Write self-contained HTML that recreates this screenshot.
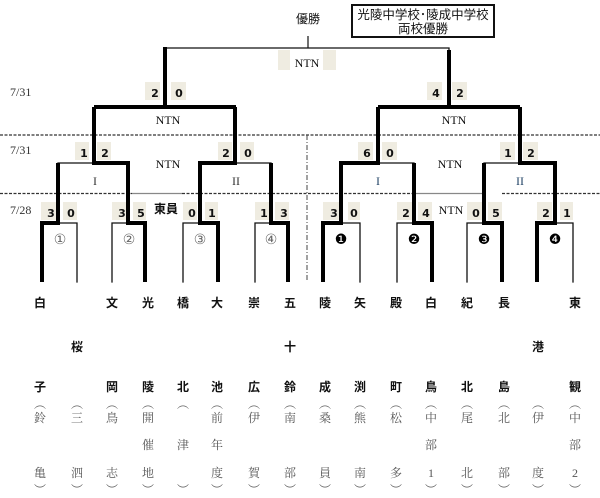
<!DOCTYPE html>
<html><head><meta charset="utf-8"><style>
html,body{margin:0;padding:0;background:#fff;}
svg{display:block;}
.s{fill:#efece1;}
.d{font-family:"DejaVu Sans","Liberation Sans",sans-serif;font-weight:bold;font-size:11px;fill:#111;text-anchor:middle;}
.n{font-family:"Liberation Serif",serif;font-size:12px;fill:#111;text-anchor:middle;}
.dt{font-family:"Liberation Serif",serif;font-size:12px;fill:#333;}
.b{font-family:"Liberation Sans","Noto Sans CJK JP",sans-serif;font-weight:bold;font-size:12px;fill:#111;text-anchor:middle;}
.g{font-family:"Liberation Serif","Noto Serif CJK SC",serif;font-size:12px;fill:#555;text-anchor:middle;}
.c{font-family:"DejaVu Sans",sans-serif;font-size:14px;text-anchor:middle;}
</style></head><body>
<svg width="600" height="498" viewBox="0 0 600 498" xmlns="http://www.w3.org/2000/svg">
<!-- dashed lines -->
<g stroke="#333" stroke-width="1.2" stroke-dasharray="3,1.5" fill="none">
<line x1="0" y1="135" x2="600" y2="135"/>
<line x1="0" y1="193.5" x2="132" y2="193.5"/>
<line x1="182" y1="193.5" x2="415" y2="193.5"/>
<line x1="502" y1="193.5" x2="600" y2="193.5"/>
</g>
<g stroke="#888" stroke-width="1.2"><line x1="132" y1="193.5" x2="182" y2="193.5"/><line x1="415" y1="193.5" x2="482" y2="193.5"/></g>
<line x1="307" y1="135" x2="307" y2="282" stroke="#444" stroke-width="1" stroke-dasharray="5,2,1,2"/>
<!-- dates -->
<text class="dt" x="10" y="96">7/31</text>
<text class="dt" x="10" y="154">7/31</text>
<text class="dt" x="10" y="214">7/28</text>
<!-- top -->
<text class="b" x="308" y="23" style="font-weight:normal">優勝</text>
<rect x="352" y="5" width="142" height="32" fill="#fff" stroke="#111" stroke-width="2"/>
<text class="b" x="423" y="19" style="font-weight:normal;font-size:12.5px">光陵中学校･陵成中学校</text>
<text class="b" x="423" y="33" style="font-weight:normal;font-size:12.5px">両校優勝</text>
<line x1="308" y1="36" x2="308" y2="48" stroke="#111" stroke-width="1.2"/>
<!-- score boxes -->
<g class="s">
<rect x="278" y="50" width="12" height="20"/><rect x="323" y="50" width="13" height="20"/>
<rect x="145" y="82" width="15" height="18"/><rect x="171" y="82" width="15" height="18"/>
<rect x="427" y="82" width="15" height="18"/><rect x="452" y="82" width="15" height="18"/>
<rect x="75" y="142" width="14" height="18"/><rect x="97" y="142" width="14" height="18"/>
<rect x="218" y="142" width="14" height="18"/><rect x="240" y="142" width="14" height="18"/>
<rect x="358" y="142" width="15" height="18"/><rect x="382" y="142" width="15" height="18"/>
<rect x="500" y="142" width="15" height="18"/><rect x="523" y="142" width="15" height="18"/>
<rect x="41" y="202" width="15" height="18"/><rect x="63" y="202" width="14" height="18"/>
<rect x="112" y="202" width="15" height="18"/><rect x="133" y="202" width="13" height="18"/>
<rect x="183" y="202" width="14" height="18"/><rect x="205" y="202" width="13" height="18"/>
<rect x="255" y="202" width="15" height="18"/><rect x="275" y="202" width="14" height="18"/>
<rect x="323" y="202" width="17" height="18"/><rect x="348" y="202" width="12" height="18"/>
<rect x="397" y="202" width="15" height="18"/><rect x="418" y="202" width="14" height="18"/>
<rect x="467" y="202" width="15" height="18"/><rect x="488" y="202" width="14" height="18"/>
<rect x="537" y="202" width="15" height="18"/><rect x="560" y="202" width="13" height="18"/>
</g>
<g>
<text class="d" x="155" y="97">2</text><text class="d" x="179" y="97">0</text>
<text class="d" x="436" y="97">4</text><text class="d" x="460" y="97">2</text>
<text class="d" x="84" y="157">1</text><text class="d" x="105" y="157">2</text>
<text class="d" x="226" y="157">2</text><text class="d" x="248" y="157">0</text>
<text class="d" x="367" y="157">6</text><text class="d" x="390" y="157">0</text>
<text class="d" x="508" y="157">1</text><text class="d" x="531" y="157">2</text>
<text class="d" x="51" y="217">3</text><text class="d" x="71" y="217">0</text>
<text class="d" x="122" y="217">3</text><text class="d" x="141" y="217">5</text>
<text class="d" x="192" y="217">0</text><text class="d" x="212" y="217">1</text>
<text class="d" x="264" y="217">1</text><text class="d" x="284" y="217">3</text>
<text class="d" x="334" y="217">3</text><text class="d" x="354" y="217">0</text>
<text class="d" x="406" y="217">2</text><text class="d" x="426" y="217">4</text>
<text class="d" x="476" y="217">0</text><text class="d" x="496" y="217">5</text>
<text class="d" x="546" y="217">2</text><text class="d" x="567" y="217">1</text>
</g>
<!-- labels -->
<text class="n" x="307" y="67">NTN</text>
<text class="n" x="168" y="124">NTN</text><text class="n" x="454" y="124">NTN</text>
<text class="n" x="168" y="168">NTN</text><text class="n" x="450" y="168">NTN</text>
<text class="n" x="95" y="185" style="fill:#333">I</text><text class="n" x="236" y="185" style="fill:#333">II</text>
<text class="n" x="378" y="185" style="fill:#246">I</text><text class="n" x="520" y="185" style="fill:#246">II</text>
<text class="b" x="166" y="213">東員</text>
<text class="n" x="451" y="214">NTN</text>
<!-- thin lines -->
<g stroke="#111" stroke-width="1.3" fill="none" stroke-linecap="square">
<path d="M165 48H449V107"/>
<path d="M58 163H94"/><path d="M58 223H77V282"/><path d="M112 282V223H128"/>
<path d="M235 163H271"/><path d="M183 282V223H200"/><path d="M255 282V223H271"/>
<path d="M378 163H414"/><path d="M341 223H360V282"/><path d="M397 282V223H414"/>
<path d="M484 163H520"/><path d="M467 282V223H484"/><path d="M555 223H573V282"/>
</g>
<!-- thick lines -->
<g stroke="#000" stroke-width="4" fill="none" stroke-linejoin="miter">
<path d="M165 47V107"/>
<path d="M94 107H236"/><path d="M378 107H520"/>
<path d="M449 107V50"/>
<path d="M42 282V223H58V163"/>
<path d="M145 282V223H128V163H94V107"/>
<path d="M218 282V223H200V163H235V107"/>
<path d="M288 282V223H271V163"/>
<path d="M323 282V223H341V163H378V107"/>
<path d="M432 282V223H414V163"/>
<path d="M502 282V223H484V163"/>
<path d="M537 282V223H555V163H520V107"/>
</g>
<!-- circled numbers -->
<g class="c" fill="#666">
<text x="60" y="244">①</text><text x="129" y="244">②</text><text x="200" y="244">③</text><text x="271" y="244">④</text>
</g>
<g class="c" fill="#000">
<text x="341" y="244">❶</text><text x="414" y="244">❷</text><text x="484" y="244">❸</text><text x="555" y="244">❹</text>
</g>
<!-- names -->
<g class="b">
<text x="40" y="307">白</text><text x="112" y="307">文</text><text x="148" y="307">光</text><text x="183" y="307">橋</text><text x="217" y="307">大</text><text x="254" y="307">崇</text><text x="290" y="307">五</text><text x="325" y="307">陵</text><text x="360" y="307">矢</text><text x="396" y="307">殿</text><text x="431" y="307">白</text><text x="467" y="307">紀</text><text x="504" y="307">長</text><text x="575" y="307">東</text>
<text x="77" y="351">桜</text><text x="290" y="351">十</text><text x="538" y="351">港</text>
<text x="40" y="391">子</text><text x="112" y="391">岡</text><text x="148" y="391">陵</text><text x="183" y="391">北</text><text x="217" y="391">池</text><text x="254" y="391">広</text><text x="290" y="391">鈴</text><text x="325" y="391">成</text><text x="360" y="391">渕</text><text x="396" y="391">町</text><text x="431" y="391">鳥</text><text x="467" y="391">北</text><text x="504" y="391">島</text><text x="575" y="391">観</text>
</g>
<g class="g">
<text x="40" y="408">︵</text><text x="77" y="408">︵</text><text x="112" y="408">︵</text><text x="148" y="408">︵</text><text x="183" y="408">︵</text><text x="217" y="408">︵</text><text x="254" y="408">︵</text><text x="290" y="408">︵</text><text x="325" y="408">︵</text><text x="360" y="408">︵</text><text x="396" y="408">︵</text><text x="431" y="408">︵</text><text x="467" y="408">︵</text><text x="504" y="408">︵</text><text x="538" y="408">︵</text><text x="575" y="408">︵</text>
<text x="40" y="422">鈴</text><text x="77" y="422">三</text><text x="112" y="422">鳥</text><text x="148" y="422">開</text><text x="217" y="422">前</text><text x="254" y="422">伊</text><text x="290" y="422">南</text><text x="325" y="422">桑</text><text x="360" y="422">熊</text><text x="396" y="422">松</text><text x="431" y="422">中</text><text x="467" y="422">尾</text><text x="504" y="422">北</text><text x="538" y="422">伊</text><text x="575" y="422">中</text>
<text x="148" y="449">催</text><text x="183" y="449">津</text><text x="217" y="449">年</text><text x="431" y="449">部</text><text x="575" y="449">部</text>
<text x="40" y="477">亀</text><text x="77" y="477">泗</text><text x="112" y="477">志</text><text x="148" y="477">地</text><text x="217" y="477">度</text><text x="254" y="477">賀</text><text x="290" y="477">部</text><text x="325" y="477">員</text><text x="360" y="477">南</text><text x="396" y="477">多</text><text x="431" y="477">1</text><text x="467" y="477">北</text><text x="504" y="477">部</text><text x="538" y="477">度</text><text x="575" y="477">2</text>
<text x="40" y="494">︶</text><text x="77" y="494">︶</text><text x="112" y="494">︶</text><text x="148" y="494">︶</text><text x="183" y="494">︶</text><text x="217" y="494">︶</text><text x="254" y="494">︶</text><text x="290" y="494">︶</text><text x="325" y="494">︶</text><text x="360" y="494">︶</text><text x="396" y="494">︶</text><text x="431" y="494">︶</text><text x="467" y="494">︶</text><text x="504" y="494">︶</text><text x="538" y="494">︶</text><text x="575" y="494">︶</text>
</g>
</svg>
</body></html>
